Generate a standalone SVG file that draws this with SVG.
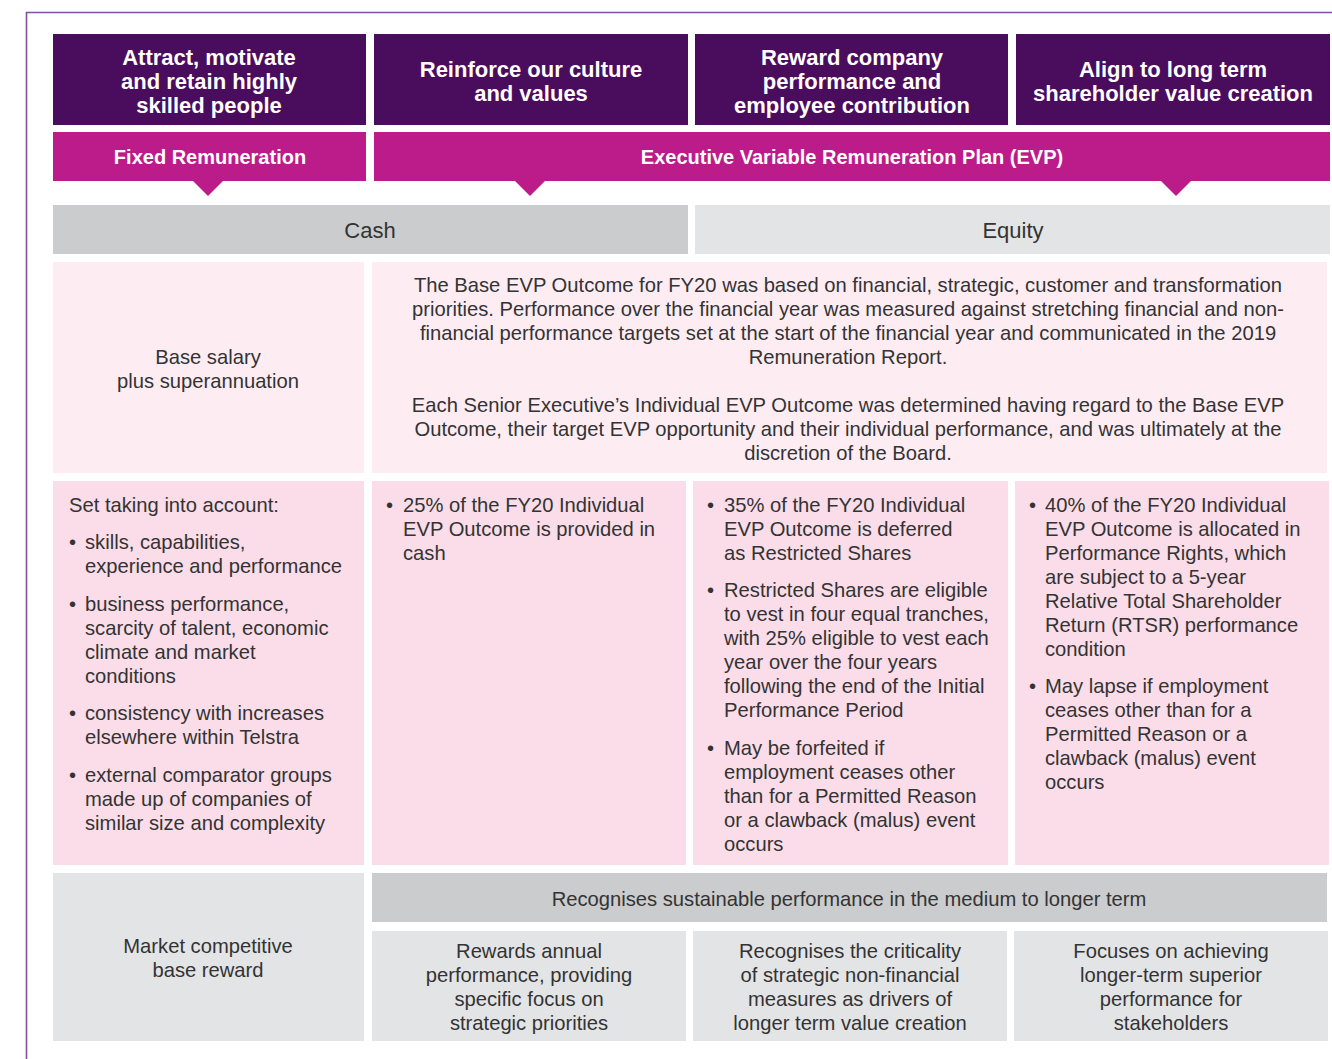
<svg xmlns="http://www.w3.org/2000/svg" width="1332" height="1059" viewBox="0 0 1332 1059">
<style>
.hd{fill:#4a0d5e}
.bn{fill:#bc1b8a}
.g1{fill:#cbccce}
.g2{fill:#e3e4e6}
.p1{fill:#fdedf3}
.p2{fill:#fadde8}
text{font-family:"Liberation Sans",Arial,sans-serif}
.ht{fill:#ffffff;font-size:22px;font-weight:bold;text-anchor:middle}
.bt{fill:#ffffff;font-size:20px;font-weight:bold;text-anchor:middle}
.tx{fill:#333333;font-size:20.2px}
.c{text-anchor:middle}
.lg{font-size:22px}
</style>
<rect width="1332" height="1059" fill="#ffffff"/>
<path d="M26.5 1059 V12.5 H1332" fill="none" stroke="#7d4f9e" stroke-width="1.6"/>

<g id="header-attract">
<rect class="hd" x="53" y="34" width="313" height="91"/>
<text class="ht"><tspan x="209" y="65">Attract, motivate</tspan><tspan x="209" y="89">and retain highly</tspan><tspan x="209" y="113">skilled people</tspan></text>
</g>
<g id="header-culture">
<rect class="hd" x="374" y="34" width="314" height="91"/>
<text class="ht"><tspan x="531" y="77">Reinforce our culture</tspan><tspan x="531" y="101">and values</tspan></text>
</g>
<g id="header-reward">
<rect class="hd" x="695" y="34" width="313" height="91"/>
<text class="ht"><tspan x="852" y="65">Reward company</tspan><tspan x="852" y="89">performance and</tspan><tspan x="852" y="113">employee contribution</tspan></text>
</g>
<g id="header-align">
<rect class="hd" x="1016" y="34" width="314" height="91"/>
<text class="ht"><tspan x="1173" y="77">Align to long term</tspan><tspan x="1173" y="101">shareholder value creation</tspan></text>
</g>

<g id="banner-fixed">
<rect class="bn" x="53" y="132" width="313" height="49"/>
<polygon class="bn" points="193,181 223,181 208,196"/>
<text class="bt" x="210" y="164">Fixed Remuneration</text>
</g>
<g id="banner-evp">
<rect class="bn" x="374" y="132" width="956" height="49"/>
<polygon class="bn" points="515,181 545,181 530,196"/>
<polygon class="bn" points="1161,181 1191,181 1176,196"/>
<text class="bt" x="852" y="164">Executive Variable Remuneration Plan (EVP)</text>
</g>

<g id="cash">
<rect class="g1" x="53" y="205" width="635" height="49"/>
<text class="tx c lg" x="370" y="238">Cash</text>
</g>
<g id="equity">
<rect class="g2" x="695" y="205" width="635" height="49"/>
<text class="tx c lg" x="1013" y="238">Equity</text>
</g>

<g id="base-salary">
<rect class="p1" x="53" y="262" width="311" height="211"/>
<text class="tx c"><tspan x="208" y="364">Base salary</tspan><tspan x="208" y="388">plus superannuation</tspan></text>
</g>
<g id="base-evp">
<rect class="p1" x="372" y="262" width="955" height="211"/>
<text class="tx c"><tspan x="848" y="292">The Base EVP Outcome for FY20 was based on financial, strategic, customer and transformation</tspan><tspan x="848" y="316">priorities. Performance over the financial year was measured against stretching financial and non-</tspan><tspan x="848" y="340">financial performance targets set at the start of the financial year and communicated in the 2019</tspan><tspan x="848" y="364">Remuneration Report.</tspan><tspan x="848" y="412">Each Senior Executive’s Individual EVP Outcome was determined having regard to the Base EVP</tspan><tspan x="848" y="436">Outcome, their target EVP opportunity and their individual performance, and was ultimately at the</tspan><tspan x="848" y="460">discretion of the Board.</tspan></text>
</g>

<g id="fixed-detail">
<rect class="p2" x="53" y="481" width="311" height="384"/>
<text class="tx"><tspan x="69" y="512">Set taking into account:</tspan><tspan x="69" y="549">•</tspan><tspan x="85" y="549">skills, capabilities,</tspan><tspan x="85" y="573">experience and performance</tspan><tspan x="69" y="611">•</tspan><tspan x="85" y="611">business performance,</tspan><tspan x="85" y="635">scarcity of talent, economic</tspan><tspan x="85" y="659">climate and market</tspan><tspan x="85" y="683">conditions</tspan><tspan x="69" y="720">•</tspan><tspan x="85" y="720">consistency with increases</tspan><tspan x="85" y="744">elsewhere within Telstra</tspan><tspan x="69" y="782">•</tspan><tspan x="85" y="782">external comparator groups</tspan><tspan x="85" y="806">made up of companies of</tspan><tspan x="85" y="830">similar size and complexity</tspan></text>
</g>
<g id="cash-detail">
<rect class="p2" x="372" y="481" width="314" height="384"/>
<text class="tx"><tspan x="386" y="512">•</tspan><tspan x="403" y="512">25% of the FY20 Individual</tspan><tspan x="403" y="536">EVP Outcome is provided in</tspan><tspan x="403" y="560">cash</tspan></text>
</g>
<g id="restricted-detail">
<rect class="p2" x="693" y="481" width="315" height="384"/>
<text class="tx"><tspan x="707" y="512">•</tspan><tspan x="724" y="512">35% of the FY20 Individual</tspan><tspan x="724" y="536">EVP Outcome is deferred</tspan><tspan x="724" y="560">as Restricted Shares</tspan><tspan x="707" y="597">•</tspan><tspan x="724" y="597">Restricted Shares are eligible</tspan><tspan x="724" y="621">to vest in four equal tranches,</tspan><tspan x="724" y="645">with 25% eligible to vest each</tspan><tspan x="724" y="669">year over the four years</tspan><tspan x="724" y="693">following the end of the Initial</tspan><tspan x="724" y="717">Performance Period</tspan><tspan x="707" y="755">•</tspan><tspan x="724" y="755">May be forfeited if</tspan><tspan x="724" y="779">employment ceases other</tspan><tspan x="724" y="803">than for a Permitted Reason</tspan><tspan x="724" y="827">or a clawback (malus) event</tspan><tspan x="724" y="851">occurs</tspan></text>
</g>
<g id="rights-detail">
<rect class="p2" x="1015" y="481" width="314" height="384"/>
<text class="tx"><tspan x="1029" y="512">•</tspan><tspan x="1045" y="512">40% of the FY20 Individual</tspan><tspan x="1045" y="536">EVP Outcome is allocated in</tspan><tspan x="1045" y="560">Performance Rights, which</tspan><tspan x="1045" y="584">are subject to a 5-year</tspan><tspan x="1045" y="608">Relative Total Shareholder</tspan><tspan x="1045" y="632">Return (RTSR) performance</tspan><tspan x="1045" y="656">condition</tspan><tspan x="1029" y="693">•</tspan><tspan x="1045" y="693">May lapse if employment</tspan><tspan x="1045" y="717">ceases other than for a</tspan><tspan x="1045" y="741">Permitted Reason or a</tspan><tspan x="1045" y="765">clawback (malus) event</tspan><tspan x="1045" y="789">occurs</tspan></text>
</g>

<g id="market-reward">
<rect class="g2" x="53" y="873" width="311" height="168"/>
<text class="tx c"><tspan x="208" y="953">Market competitive</tspan><tspan x="208" y="977">base reward</tspan></text>
</g>
<g id="recognises">
<rect class="g1" x="372" y="873" width="955" height="49"/>
<text class="tx c" x="849" y="906">Recognises sustainable performance in the medium to longer term</text>
</g>
<g id="annual">
<rect class="g2" x="372" y="931" width="314" height="110"/>
<text class="tx c"><tspan x="529" y="958">Rewards annual</tspan><tspan x="529" y="982">performance, providing</tspan><tspan x="529" y="1006">specific focus on</tspan><tspan x="529" y="1030">strategic priorities</tspan></text>
</g>
<g id="criticality">
<rect class="g2" x="693" y="931" width="314" height="110"/>
<text class="tx c"><tspan x="850" y="958">Recognises the criticality</tspan><tspan x="850" y="982">of strategic non-financial</tspan><tspan x="850" y="1006">measures as drivers of</tspan><tspan x="850" y="1030">longer term value creation</tspan></text>
</g>
<g id="longer-term">
<rect class="g2" x="1014" y="931" width="314" height="110"/>
<text class="tx c"><tspan x="1171" y="958">Focuses on achieving</tspan><tspan x="1171" y="982">longer-term superior</tspan><tspan x="1171" y="1006">performance for</tspan><tspan x="1171" y="1030">stakeholders</tspan></text>
</g>
</svg>
